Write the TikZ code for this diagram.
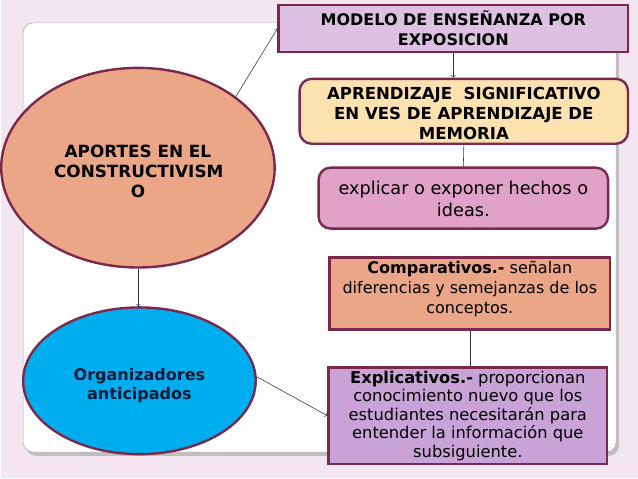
\documentclass[tikz,border=0pt]{standalone}
\usepackage{fontspec}
\setmainfont{DejaVu Sans}
\usetikzlibrary{shapes.geometric}

\definecolor{fondo}{RGB}{243,230,240}
\definecolor{borde}{RGB}{122,40,75}
\definecolor{lila}{RGB}{221,192,226}
\definecolor{crema}{RGB}{253,226,177}
\definecolor{rosa}{RGB}{225,162,200}
\definecolor{salmon}{RGB}{235,166,135}
\definecolor{violeta}{RGB}{201,163,216}
\definecolor{azul}{RGB}{0,174,239}
\definecolor{marino}{RGB}{10,25,55}

\begin{document}
\begin{tikzpicture}[>=to,
	caja/.style={draw=borde,line width=1.7pt,rectangle,align=center,inner sep=2pt},
	globo/.style={draw=borde,line width=1.7pt,ellipse,align=center,inner sep=0pt},
	flecha/.style={->,draw=black!80,thin}]

	% fondo y panel blanco
	\fill[fondo] (0,0) rectangle (15.95,11.975);
	\fill[gray!50,rounded corners=0.25cm] (0.62,0.56) rectangle (15.47,11.35);
	\filldraw[fill=white,draw=gray!60,rounded corners=0.25cm] (0.55,0.65) rectangle (15.4,11.4);

	% elipses
	\node[globo,fill=salmon,minimum width=6.85cm,minimum height=5cm,font=\fontsize{12}{14.4}\selectfont\bfseries] (aportes) at (3.425,7.775) {\parbox[c][1.5cm][b]{4.2cm}{\centering APORTES EN EL\\CONSTRUCTIVISM\\O}};
	\node[globo,fill=azul,minimum width=5.825cm,minimum height=3.675cm,text=marino,font=\fontsize{11.4}{13.6}\selectfont\bfseries] (organizadores) at (3.4625,2.4375) {\parbox[c][1.0cm][b]{3.4cm}{\centering Organizadores\\anticipados}};

	% cajas de la derecha
	\node[caja,fill=lila,minimum width=8.75cm,minimum height=1.175cm,font=\fontsize{11.4}{14.2}\selectfont\bfseries] (modelo) at (11.325,11.2625) {MODELO DE ENSEÑANZA POR\\EXPOSICION};
	\node[caja,fill=crema,rounded corners=0.3cm,minimum width=8.225cm,minimum height=1.625cm,font=\fontsize{11.8}{14.2}\selectfont\bfseries] (aprendizaje) at (11.5875,9.1875) {\parbox[c][1.4cm][b]{7.8cm}{\centering APRENDIZAJE\ \ SIGNIFICATIVO\\EN VES DE APRENDIZAJE DE\\MEMORIA}};
	\node[caja,fill=rosa,rounded corners=0.3cm,minimum width=7.25cm,minimum height=1.525cm,font=\fontsize{12.6}{15.4}\selectfont] (explicar) at (11.575,7.0125) {\parbox[c][0.93cm][b]{7cm}{\centering explicar o exponer hechos o\\ideas.}};
	\node[caja,fill=salmon,minimum width=7.025cm,minimum height=1.8cm,font=\fontsize{11.4}{14.2}\selectfont] (comparativos) at (11.7375,4.625) {\parbox[c][1.6cm][t]{6.8cm}{\centering\textbf{Comparativos.-} señalan\\diferencias y semejanzas de los\\conceptos.}};
	\node[caja,fill=violeta,minimum width=6.975cm,minimum height=2.425cm,font=\fontsize{11.6}{13.2}\selectfont] (explicativos) at (11.6875,1.5625) {\textbf{Explicativos.-} proporcionan\\conocimiento nuevo que los\\estudiantes necesitarán para\\entender la información que\\subsiguiente.};

	% conexiones
	\draw[flecha] (aportes.36) -- (modelo.west);
	\draw[flecha] (modelo.south) -- (modelo.south |- aprendizaje.north);
	\draw[draw=black!80,thin] (aprendizaje.south) -- (explicar.north);
	\draw[flecha] (aportes.south) -- (aportes.south |- organizadores.north);
	\draw[flecha] (organizadores.2) -- (explicativos.west);
	\draw[draw=black!80,thin] (comparativos.south) -- (comparativos.south |- explicativos.north);

\end{tikzpicture}
\end{document}
